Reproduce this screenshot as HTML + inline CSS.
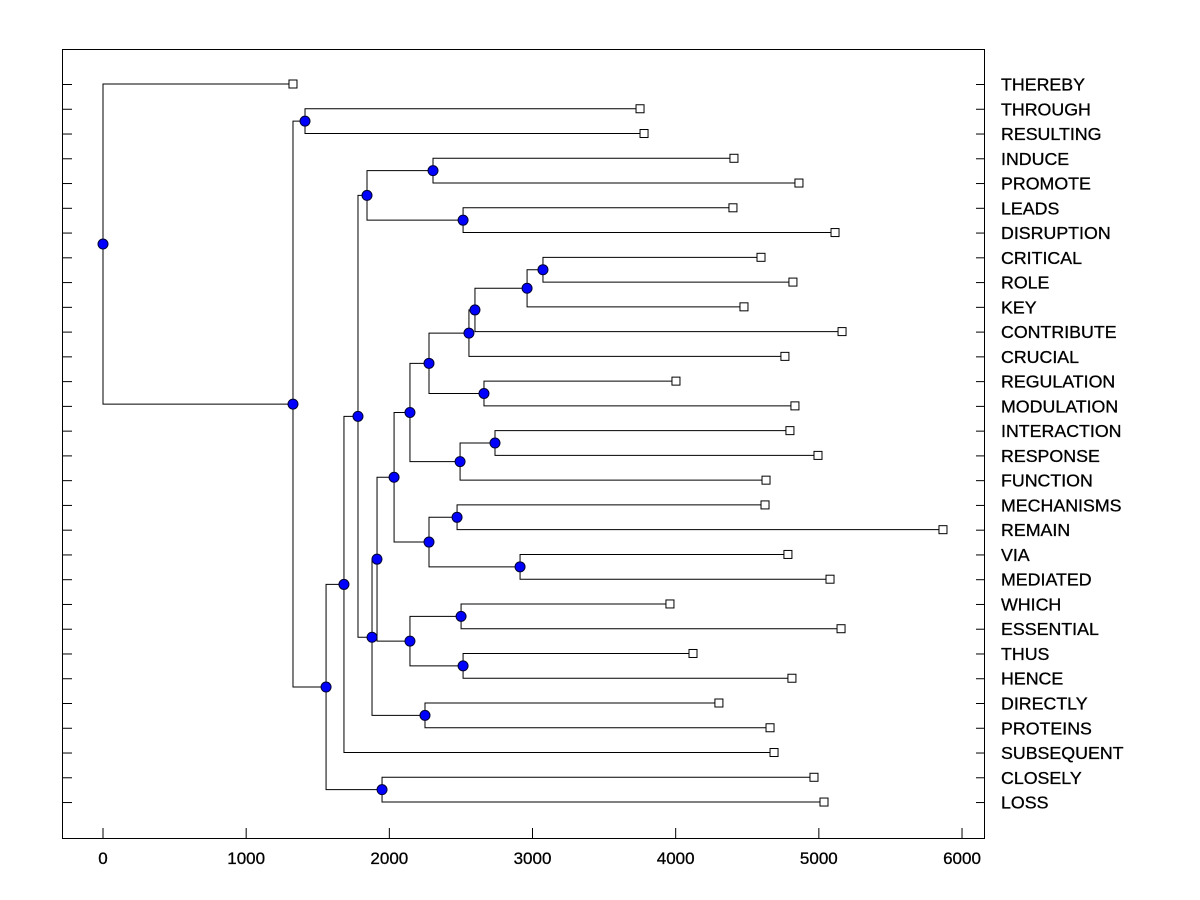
<!DOCTYPE html>
<html><head><meta charset="utf-8"><style>
body{margin:0;background:#fff;}
svg{display:block;font-family:"Liberation Sans",Arial,sans-serif;}
</style></head><body>
<svg id="chart" width="1200" height="900" viewBox="0 0 1200 900">
<rect x="62.5" y="49.5" width="922" height="789" fill="none" stroke="#000" stroke-width="1"/>
<g id="ticks"></g><g id="links"></g><g id="marks"></g><g id="labels"></g>
</svg>
<script>
const leaves=["THEREBY","THROUGH","RESULTING","INDUCE","PROMOTE","LEADS","DISRUPTION","CRITICAL","ROLE","KEY","CONTRIBUTE","CRUCIAL","REGULATION","MODULATION","INTERACTION","RESPONSE","FUNCTION","MECHANISMS","REMAIN","VIA","MEDIATED","WHICH","ESSENTIAL","THUS","HENCE","DIRECTLY","PROTEINS","SUBSEQUENT","CLOSELY","LOSS"];
const leafValues=[1327,3751,3779,4407,4861,4400,5113,4596,4819,4477,5162,4763,4002,4833,4798,4994,4631,4624,5867,4784,5078,3960,5155,4121,4812,4302,4659,4687,4966,5036];
// internal nodes: [childA, childB, height]; children: "L:name" leaf or "N:id" node
const nodeIds=["root","A","B","C","D","E","F","G","GI","GL","I","J","L","N","P","R","T","U","V","S","Q","W","O","X","Y","M","Z1","Z2","DP"];
const nodeChildA=["L:THEREBY","N:B","L:THROUGH","N:D","N:F","L:CLOSELY","N:G","N:GI","L:INDUCE","L:LEADS","N:J","N:L","N:N","N:P","N:R","N:T","N:U","N:V","L:CRITICAL","L:REGULATION","N:W","L:INTERACTION","N:X","L:VIA","L:MECHANISMS","N:Z1","L:WHICH","L:THUS","L:DIRECTLY"];
const nodeChildB=["N:A","N:C","L:RESULTING","N:E","L:SUBSEQUENT","L:LOSS","N:I","N:GL","L:PROMOTE","L:DISRUPTION","N:DP","N:M","N:O","N:Q","N:S","L:CRUCIAL","L:CONTRIBUTE","L:KEY","L:ROLE","L:MODULATION","L:FUNCTION","L:RESPONSE","N:Y","L:MEDIATED","L:REMAIN","N:Z2","L:ESSENTIAL","L:HENCE","L:PROTEINS"];
const nodeHeights=[0,1327,1411,1558,1683,1949,1781,1844,2305,2515,1879,1914,2033,2144,2277,2556,2598,2962,3073,2661,2494,2738,2277,2913,2473,2144,2501,2515,2249];
const xTicks=[0,1000,2000,3000,4000,5000,6000];

const NS="http://www.w3.org/2000/svg";
const X=v=>103+v*0.14317;
const Y=i=>84+i*24.76;
function mk(tag,attrs,parent){const e=document.createElementNS(NS,tag);for(const k in attrs)e.setAttribute(k,attrs[k]);document.getElementById(parent).appendChild(e);return e;}
function pos(ref){
  const [t,n]=ref.split(":");
  if(t==="L"){const i=leaves.indexOf(n);return {x:X(leafValues[i]),y:Y(i)};}
  const k=nodeIds.indexOf(n);const a=pos(nodeChildA[k]),b=pos(nodeChildB[k]);
  return {x:X(nodeHeights[k]),y:(a.y+b.y)/2};
}
xTicks.forEach(v=>{
  const l=mk("line",{x1:X(v),x2:X(v),y1:838,y2:828,stroke:"#000"},"ticks");
  
  
  const t=mk("text",{x:X(v),y:864,"text-anchor":"middle","font-size":"17","stroke":"#000","stroke-width":"0.3"},"labels");
  t.textContent=v;
  
  
});
leaves.forEach((n,i)=>{
  const l=mk("line",{x1:62,x2:72,y1:Y(i)+0.5,y2:Y(i)+0.5,stroke:"#000"},"ticks");
  
  
  const r=mk("line",{x1:976,x2:984,y1:Y(i)+0.5,y2:Y(i)+0.5,stroke:"#000"},"ticks");
  
  
  const t=mk("text",{x:1001,y:Y(i)+6.5,"font-size":"17.8","stroke":"#000","stroke-width":"0.3"},"labels");
  t.textContent=n;
  
  
});
nodeIds.forEach((id,k)=>{
  const p=pos("N:"+id),a=pos(nodeChildA[k]),b=pos(nodeChildB[k]);
  const path=mk("path",{d:`M${a.x},${a.y}H${p.x}V${b.y}H${b.x}`,fill:"none",stroke:"#000","stroke-width":"1"},"links");
  
  
});
leaves.forEach((n,i)=>{
  const p=pos("L:"+n);
  const r=mk("rect",{x:p.x-4,y:p.y-4,width:8,height:8,fill:"#fff",stroke:"#000"},"marks");
  
  
});
nodeIds.forEach(id=>{
  const p=pos("N:"+id);
  const c=mk("circle",{cx:p.x,cy:p.y,r:5,fill:"#0000ff",stroke:"#000033","stroke-width":"1"},"marks");
  
  
});
</script>
</body></html>
